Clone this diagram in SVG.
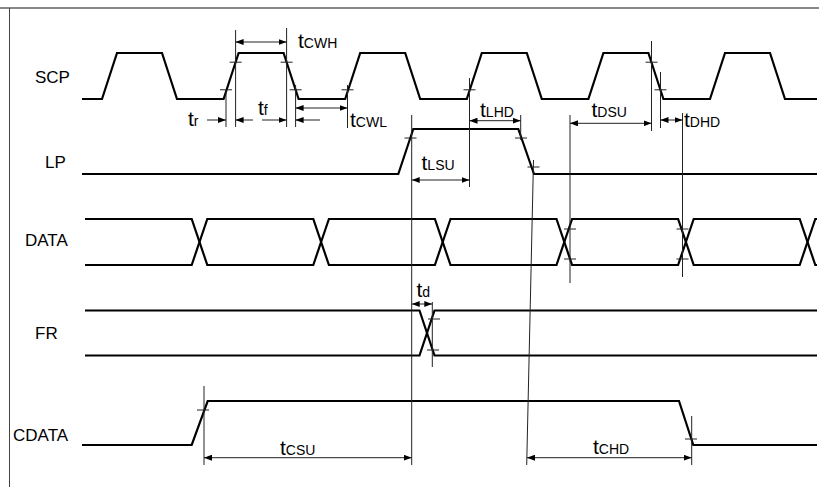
<svg xmlns="http://www.w3.org/2000/svg" width="819" height="487" viewBox="0 0 819 487">
<style>
.sig{fill:none;stroke:#000;stroke-width:2.2;stroke-linejoin:miter}
.thin{fill:none;stroke:#222;stroke-width:1}
.dim{fill:none;stroke:#222;stroke-width:1;marker-start:url(#ah);marker-end:url(#ah)}
.one{fill:none;stroke:#222;stroke-width:1;marker-end:url(#ah)}
.lbl{font-family:"Liberation Sans",Arial,sans-serif;font-size:17px;fill:#000}
.t{font-family:"Liberation Sans",Arial,sans-serif;font-size:21px;fill:#000}
.s{font-size:14px}
</style>
<defs>
<marker id="ah" viewBox="0 0 8 6" refX="8" refY="3" markerWidth="8" markerHeight="6" markerUnits="userSpaceOnUse" orient="auto-start-reverse">
<path d="M0,0 L8,3 L0,6 z" fill="#000"/>
</marker>
</defs>
<rect x="0" y="0" width="819" height="487" fill="#fff"/>
<line x1="0" y1="8" x2="819" y2="8" stroke="#888" stroke-width="2"/>
<line x1="9.5" y1="8" x2="9.5" y2="487" stroke="#444" stroke-width="1"/>

<g id="SCP">
<text class="lbl" x="35" y="83">SCP</text>
<path class="sig" d="M82,99 H102 L117,53 H162 L177,99 H223.6 L238.6,53 H283.6 L298.6,99 H345.2 L360.2,53 H405.2 L420.2,99 H466.8 L481.8,53 H526.8 L541.8,99 H588.4 L603.4,53 H648.4 L663.4,99 H710 L725,53 H770 L785,99 H817"/>
</g>
<g id="LP">
<text class="lbl" x="45" y="168">LP</text>
<path class="sig" d="M82,174 H398.3 L413.3,129 H518.3 L534,174 H817"/>
</g>
<g id="DATA">
<text class="lbl" x="25" y="246">DATA</text>
<path class="sig" d="M85,219 H191.7 L207.3,265 H313.3 L328.9,219 H434.9 L450.5,265 H556.5 L572.1,219 H678.1 L693.7,265 H799.7 L815.3,219 H817"/>
<path class="sig" d="M85,265 H191.7 L207.3,219 H313.3 L328.9,265 H434.9 L450.5,219 H556.5 L572.1,265 H678.1 L693.7,219 H799.7 L815.3,265 H817"/>
</g>
<g id="FR">
<text class="lbl" x="35" y="339">FR</text>
<path class="sig" d="M85,310.5 H419.5 L434.5,355.5 H817"/>
<path class="sig" d="M85,355.5 H419.5 L434.5,310.5 H817"/>
</g>
<g id="CDATA">
<text class="lbl" x="13" y="441">CDATA</text>
<path class="sig" d="M82,445 H191.7 L207.7,401 H679 L693.3,445 H817"/>
</g>

<g id="connectors">
<!-- reference lines -->
<path class="thin" d="M226,90 V127 M235.6,30 V127 M286.6,28 V127 M295.6,85 V127 M347.5,85 V128 M469.5,78 V187 M520.7,115 V140 M411.7,115 V465 M533.5,160 L526.7,465 M570,115 V283 M651.5,41 V131 M660.5,72 V128 M682.5,113 V277 M432.3,302 V367 M204,386 V465 M691.7,416 V465"/>
<!-- ticks -->
<path class="thin" d="M229.6,62.2 h12 M220,89.8 h12 M280.6,62.2 h12 M289.6,89.8 h12 M341.5,89.8 h12 M463.5,89.8 h12 M645.5,62.2 h12 M654.5,89.8 h12 M404.5,138 h12 M515,138 h12 M527.5,167 h12 M564,229 h12 M564,259 h12 M676.5,229 h12 M676.5,259 h12 M428,319 h12 M427,350 h12 M197,410 h12 M685,439 h12"/>
<!-- dimension arrows -->
<line class="dim" x1="235.6" y1="42" x2="286.6" y2="42"/>
<line class="one" x1="207" y1="120" x2="226" y2="120"/>
<line class="one" x1="253" y1="120" x2="235.6" y2="120"/>
<line class="one" x1="262" y1="120" x2="286.6" y2="120"/>
<line class="one" x1="320" y1="120" x2="295.6" y2="120"/>
<line class="dim" x1="295.6" y1="108" x2="347.5" y2="108"/>
<line class="dim" x1="469.5" y1="120.7" x2="520.7" y2="120.7"/>
<line class="dim" x1="411.7" y1="180" x2="469.5" y2="180"/>
<line class="dim" x1="570" y1="123.3" x2="651.5" y2="123.3"/>
<line class="dim" x1="660.5" y1="120" x2="682.5" y2="120"/>
<line class="dim" x1="411.7" y1="304" x2="432.3" y2="304"/>
<line class="dim" x1="204" y1="457.7" x2="411.7" y2="457.7"/>
<line class="dim" x1="527" y1="457.7" x2="691.7" y2="457.7"/>
</g>

<g id="labels">
<text class="t" x="298" y="48">t<tspan class="s">CWH</tspan></text>
<text class="t" x="188" y="126">t<tspan class="s">r</tspan></text>
<text class="t" x="258" y="115">t<tspan class="s">f</tspan></text>
<text class="t" x="350" y="127">t<tspan class="s">CWL</tspan></text>
<text class="t" x="480" y="117">t<tspan class="s">LHD</tspan></text>
<text class="t" x="421.5" y="170">t<tspan class="s">LSU</tspan></text>
<text class="t" x="591.5" y="117">t<tspan class="s">DSU</tspan></text>
<text class="t" x="684" y="127">t<tspan class="s">DHD</tspan></text>
<text class="t" x="416.5" y="297">t<tspan class="s">d</tspan></text>
<text class="t" x="280" y="455">t<tspan class="s">CSU</tspan></text>
<text class="t" x="593" y="454">t<tspan class="s">CHD</tspan></text>
</g>
</svg>
